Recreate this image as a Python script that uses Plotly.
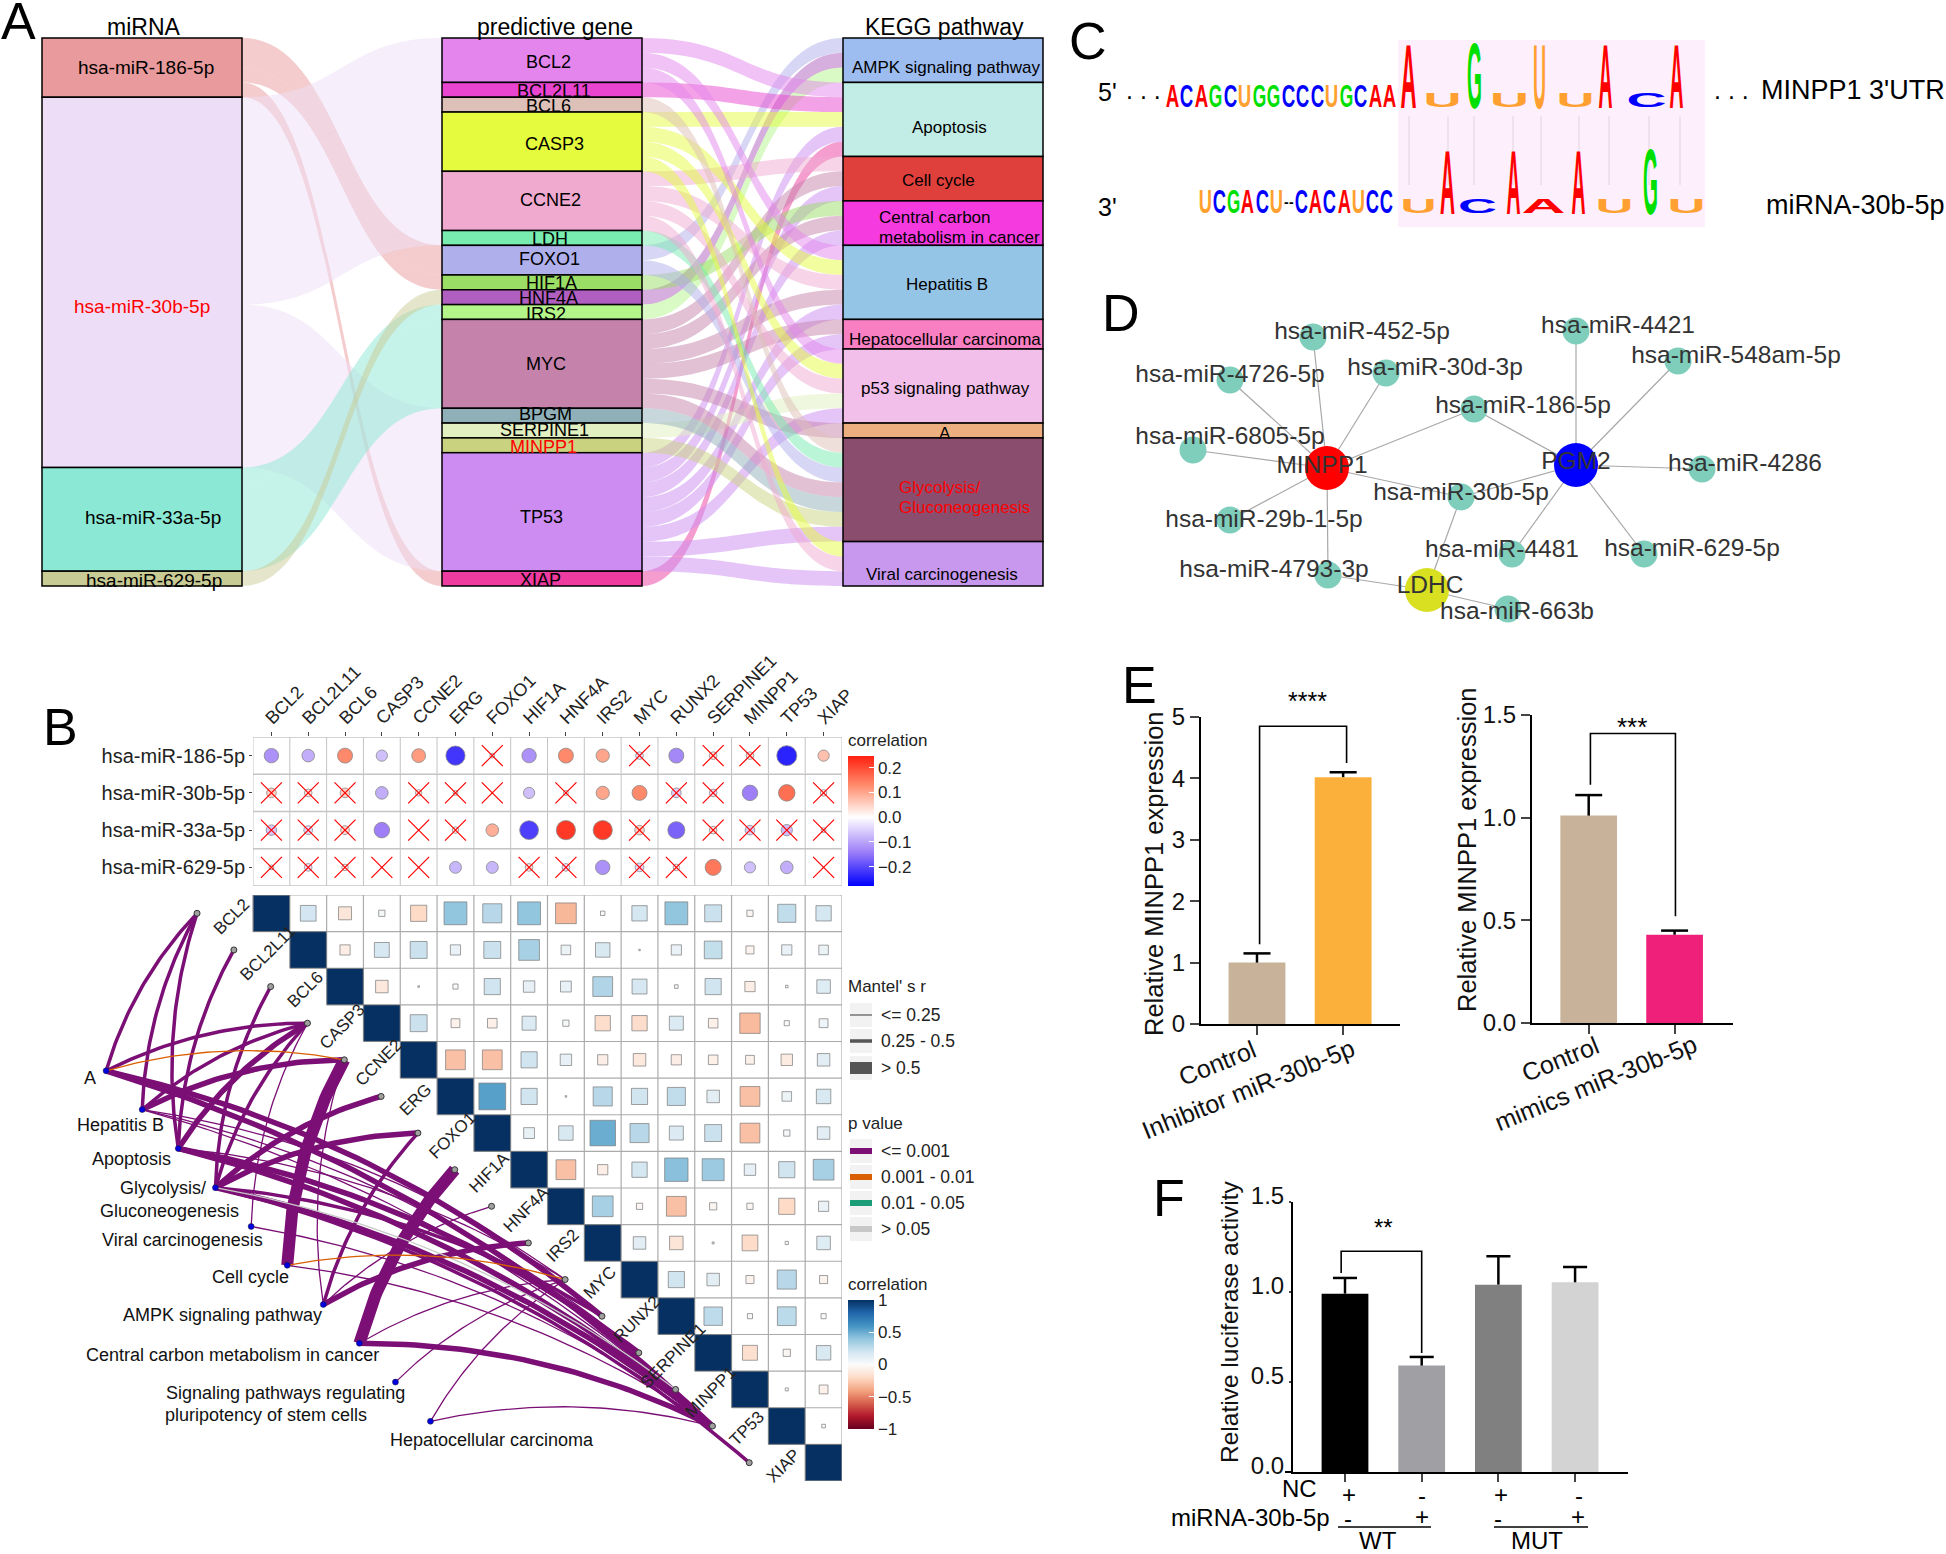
import json
import plotly.graph_objects as go

W, H = 1946, 1554
FONT = "Liberation Sans"

# ---------- Panel A data ----------
mirnas = ["hsa-miR-186-5p", "hsa-miR-30b-5p", "hsa-miR-33a-5p", "hsa-miR-629-5p"]
genes_a = ["BCL2", "BCL2L11", "BCL6", "CASP3", "CCNE2", "LDH", "FOXO1", "HIF1A", "HNF4A",
           "IRS2", "MYC", "BPGM", "SERPINE1", "MINPP1", "TP53", "XIAP"]
pathways_a = ["AMPK signaling pathway", "Apoptosis", "Cell cycle", "Central carbon metabolism in cancer",
              "Hepatitis B", "Hepatocellular carcinoma", "p53 signaling pathway", "A",
              "Glycolysis/Gluconeogenesis", "Viral carcinogenesis"]
mirna_links = [
    ("hsa-miR-186-5p", "FOXO1", 2), ("hsa-miR-186-5p", "HIF1A", 1), ("hsa-miR-186-5p", "XIAP", 1),
    ("hsa-miR-30b-5p", "BCL2", 3), ("hsa-miR-30b-5p", "BCL2L11", 1), ("hsa-miR-30b-5p", "BCL6", 1), ("hsa-miR-30b-5p", "CASP3", 4),
    ("hsa-miR-30b-5p", "CCNE2", 4), ("hsa-miR-30b-5p", "LDH", 1), ("hsa-miR-30b-5p", "BPGM", 1),
    ("hsa-miR-30b-5p", "SERPINE1", 1), ("hsa-miR-30b-5p", "MINPP1", 1), ("hsa-miR-30b-5p", "TP53", 8),
    ("hsa-miR-33a-5p", "IRS2", 1), ("hsa-miR-33a-5p", "MYC", 6),
    ("hsa-miR-629-5p", "HNF4A", 1),
]
gene_links = {
    "AMPK signaling pathway": ["FOXO1", "HNF4A", "IRS2"],
    "Apoptosis": ["BCL2", "BCL2L11", "CASP3", "TP53", "XIAP"],
    "Cell cycle": ["CCNE2", "MYC", "TP53"],
    "Central carbon metabolism in cancer": ["HIF1A", "MYC", "TP53"],
    "Hepatitis B": ["BCL2", "CASP3", "CCNE2", "MYC", "TP53"],
    "Hepatocellular carcinoma": ["MYC", "TP53"],
    "p53 signaling pathway": ["BCL2", "CASP3", "CCNE2", "SERPINE1", "TP53"],
    "A": ["MYC"],
    "Glycolysis/Gluconeogenesis": ["BCL6", "LDH", "FOXO1", "MYC", "BPGM", "MINPP1", "TP53"],
    "Viral carcinogenesis": ["CASP3", "CCNE2", "TP53"],
}
node_colors = ["#E99A9C", "#EEDDF6", "#8BE8D4", "#C9CB95",
               "#E385EC", "#EA45D0", "#DDC0B7", "#E4FB3E", "#F0AACF", "#78ECAF", "#AFB0EB", "#9ADE66",
               "#B05FC0", "#B4F58A", "#C583AC", "#8FB0B9", "#E2EFC0", "#C9D37F", "#CC8CF1", "#EE3B9F",
               "#9DBDF0", "#C2ECE6", "#E0403C", "#F53BE0", "#95C5E6", "#F77FC2", "#F2BEEA", "#EEAF80",
               "#8B4D6E", "#C898EE"]

# ---------- Panel B data ----------
genes = ["BCL2", "BCL2L11", "BCL6", "CASP3", "CCNE2", "ERG", "FOXO1", "HIF1A", "HNF4A", "IRS2",
         "MYC", "RUNX2", "SERPINE1", "MINPP1", "TP53", "XIAP"]
r_186 = [-0.12, -0.09, 0.13, -0.07, 0.11, -0.22, -0.01, -0.12, 0.13, 0.10, -0.03, -0.13, 0.03, 0.03, -0.24, 0.07]
r_30b = [0.05, 0.03, 0.05, -0.09, 0.02, 0.01, 0.00, -0.07, 0.01, 0.10, 0.13, -0.05, -0.03, -0.14, 0.16, 0.02]
r_33a = [-0.06, -0.04, 0.04, -0.14, 0.00, 0.02, 0.09, -0.21, 0.22, 0.22, 0.05, -0.17, 0.03, -0.05, -0.07, 0.01]
r_629 = [0.01, -0.03, 0.02, 0.00, 0.00, -0.08, -0.08, 0.03, -0.03, -0.12, -0.04, 0.02, 0.15, -0.07, -0.09, 0.00]
nonsig_186 = [6, 10, 12, 13]
nonsig_30b = [0, 1, 2, 4, 5, 6, 8, 11, 12, 15]
nonsig_33a = [0, 1, 2, 4, 5, 10, 12, 13, 14, 15]
nonsig_629 = [0, 1, 2, 3, 4, 7, 8, 10, 11, 15]

corr_upper = [
    [.19, -.13, .03, -.20, .40, .28, .40, -.33, -.015, .18, .40, .22, -.03, .25, .18],
    [-.08, .17, .22, .08, .22, .33, .07, .16, .001, .08, .24, -.05, .08, .07],
    [-.12, .002, .02, .20, .10, .09, .30, .17, .01, .20, -.08, .005, .14],
    [.22, -.06, -.07, .15, .03, -.18, -.18, .15, -.07, -.32, .02, .06],
    [-.30, -.30, .20, .10, -.08, -.12, -.08, -.07, -.06, -.10, .12],
    [.55, .20, .002, .28, .20, .25, .12, -.30, .07, .16],
    [.09, .16, .50, .28, .15, .22, -.30, .03, .12],
    [-.30, -.08, .18, .42, .37, .10, .20, .33],
    [.33, -.03, -.30, -.04, -.03, -.20, .08],
    [.12, -.14, .003, -.19, .008, .14],
    [.20, .12, -.05, .28, -.05],
    [.26, .02, .27, .02],
    [-.17, -.04, .16],
    [.007, -.06],
    [.01],
]
path_names = ["A", "Hepatitis B", "Apoptosis", "Glycolysis", "Viral carcinogenesis", "Cell cycle",
              "AMPK signaling pathway", "Central carbon", "Signaling pluripotency", "Hepatocellular carcinoma"]
path_col = [-4.49, -3.51, -2.53, -1.52, -0.55, 0.43, 1.41, 2.39, 3.37, 4.32]
path_row = [4.30, 5.36, 6.42, 7.49, 8.55, 9.61, 10.68, 11.74, 12.80, 13.87]
# (pathway, gene, mantel size class, p class)
mantel_edges = [
    ("A", "BCL2", 2, "a"), ("A", "CASP3", 2, "a"), ("A", "CCNE2", 1, "b"), ("A", "RUNX2", 3, "a"), ("A", "TP53", 3, "a"),
    ("Hepatitis B", "BCL2", 2, "a"), ("Hepatitis B", "CASP3", 2, "a"), ("Hepatitis B", "CCNE2", 3, "a"), ("Hepatitis B", "MYC", 1, "a"),
    ("Hepatitis B", "TP53", 1, "a"), ("Hepatitis B", "SERPINE1", 1, "a"),
    ("Apoptosis", "BCL2", 2, "a"), ("Apoptosis", "BCL2L11", 2, "a"), ("Apoptosis", "CASP3", 3, "a"), ("Apoptosis", "SERPINE1", 3, "a"),
    ("Apoptosis", "TP53", 3, "a"), ("Apoptosis", "MYC", 1, "a"),
    ("Glycolysis", "BCL6", 2, "a"), ("Glycolysis", "CASP3", 2, "a"), ("Glycolysis", "ERG", 3, "a"), ("Glycolysis", "FOXO1", 3, "a"),
    ("Glycolysis", "MINPP1", 1, "d"), ("Glycolysis", "RUNX2", 2, "a"), ("Glycolysis", "TP53", 3, "a"), ("Glycolysis", "XIAP", 2, "a"),
    ("Viral carcinogenesis", "CASP3", 1, "a"), ("Viral carcinogenesis", "TP53", 1, "a"),
    ("Cell cycle", "CCNE2", 4, "a"), ("Cell cycle", "MYC", 1, "b"), ("Cell cycle", "TP53", 1, "a"),
    ("AMPK signaling pathway", "CCNE2", 1, "a"), ("AMPK signaling pathway", "FOXO1", 2, "a"), ("AMPK signaling pathway", "IRS2", 3, "a"),
    ("AMPK signaling pathway", "HNF4A", 1, "a"),
    ("Central carbon", "HIF1A", 4, "a"), ("Central carbon", "MYC", 1, "a"), ("Central carbon", "TP53", 3, "a"),
    ("Signaling pluripotency", "MYC", 1, "a"),
    ("Hepatocellular carcinoma", "MYC", 1, "a"), ("Hepatocellular carcinoma", "TP53", 1, "a"),
]

# ---------- Panel C data ----------
seq_top = "ACAGCUGGCCCUGCAA"
seq_bottom = "UCGACU--CACAUCC"
logo_top = ["A", "U", "G", "U", "U", "U", "A", "C", "A"]
logo_bottom = ["U", "A", "C", "A", "A", "A", "U", "G", "U"]
letter_colors = {"A": "#FF0000", "C": "#0000FF", "G": "#00E000", "U": "#FFA030", "-": "#000000"}

# ---------- Panel D data ----------
net_names = ["MINPP1", "PGM2", "LDHC", "hsa-miR-452-5p", "hsa-miR-4726-5p", "hsa-miR-30d-3p", "hsa-miR-6805-5p",
             "hsa-miR-29b-1-5p", "hsa-miR-4793-3p", "hsa-miR-186-5p", "hsa-miR-30b-5p", "hsa-miR-4421",
             "hsa-miR-548am-5p", "hsa-miR-4286", "hsa-miR-4481", "hsa-miR-629-5p", "hsa-miR-663b"]
net_x = [1327, 1576, 1427, 1313, 1230, 1386, 1193, 1230, 1328, 1474, 1461, 1576, 1678, 1702, 1512, 1644, 1508]
net_y = [468, 465, 590, 337, 380, 373, 450, 520, 575, 409, 497, 331, 361, 469, 554, 554, 609]
net_label_x = [1322, 1576, 1430, 1362, 1230, 1435, 1230, 1264, 1274, 1523, 1461, 1618, 1736, 1745, 1502, 1692, 1517]
net_label_y = [467, 463, 587, 333, 376, 369, 438, 521, 571, 407, 494, 327, 357, 465, 551, 550, 613]
net_edges = [("MINPP1", m) for m in ["hsa-miR-452-5p", "hsa-miR-4726-5p", "hsa-miR-30d-3p", "hsa-miR-6805-5p",
                                     "hsa-miR-29b-1-5p", "hsa-miR-4793-3p", "hsa-miR-186-5p", "hsa-miR-30b-5p"]] + \
            [("PGM2", m) for m in ["hsa-miR-186-5p", "hsa-miR-30b-5p", "hsa-miR-4421", "hsa-miR-548am-5p",
                                   "hsa-miR-4286", "hsa-miR-4481", "hsa-miR-629-5p"]] + \
            [("LDHC", m) for m in ["hsa-miR-30b-5p", "hsa-miR-4793-3p", "hsa-miR-663b"]]

# ---------- Panels E, F data ----------
e1_labels = ["Control", "Inhibitor miR-30b-5p"]
e1_values = [1.0, 4.02]
e1_errors = [0.15, 0.08]
e2_labels = ["Control", "mimics miR-30b-5p"]
e2_values = [1.01, 0.43]
e2_errors = [0.10, 0.02]
f_values = [0.989, 0.59, 1.039, 1.052]
f_errors = [0.087, 0.048, 0.157, 0.085]


# ---------- helpers ----------
def dx(a, b):
    return [a / W, b / W]


def dy(top, bot):
    return [1 - bot / H, 1 - top / H]


annotations, shapes, stretch = [], [], {}


def note(text, x, y, size, color="black", xa="center", ya="middle", angle=0, bold=False):
    annotations.append(dict(text=text, x=x / W, y=1 - y / H, xref="paper", yref="paper", showarrow=False,
                            xanchor=xa, yanchor=ya, textangle=angle, borderpad=0, borderwidth=0,
                            font=dict(family=FONT, size=size, color=color, weight="bold" if bold else "normal")))


def pxline(x0, y0, x1, y1, color="black", width=1.5):
    shapes.append(dict(type="line", xref="paper", yref="paper", x0=x0 / W, x1=x1 / W,
                       y0=1 - y0 / H, y1=1 - y1 / H, line=dict(color=color, width=width)))


def pxrect(x0, y0, x1, y1, fill, layer="below"):
    shapes.append(dict(type="rect", xref="paper", yref="paper", x0=x0 / W, x1=x1 / W, y0=1 - y0 / H,
                       y1=1 - y1 / H, fillcolor=fill, line=dict(width=0), layer=layer))


def rgba(hex_color, a):
    h = hex_color.lstrip("#")
    return f"rgba({int(h[:2],16)},{int(h[2:4],16)},{int(h[4:],16)},{a})"


fig = go.Figure()

# ---------- Panel A: sankey ----------
SANKEY_W = 1043 - 42
THICK = 200
all_nodes = mirnas + genes_a + pathways_a
idx = {n: i for i, n in enumerate(all_nodes)}
src, tgt, val, col = [], [], [], []
for a, b, v in mirna_links:
    src.append(idx[a]); tgt.append(idx[b]); val.append(v); col.append(rgba(node_colors[idx[a]], 0.5))
for p, gs in gene_links.items():
    for g in gs:
        src.append(idx[g]); tgt.append(idx[p]); val.append(1); col.append(rgba(node_colors[idx[g]], 0.5))
node_val = [0] * len(all_nodes)
for s, v in zip(src, val):
    node_val[s] += v
for n in pathways_a:
    node_val[idx[n]] = len(gene_links[n])
total = sum(node_val[idx[n]] for n in mirnas)
half = (THICK / 2) / SANKEY_W
node_x, node_y = [], []
for column, xpos in ((mirnas, half), (genes_a, 0.5 - 0.0005), (pathways_a, 1 - half)):
    cum = 0
    for n in column:
        v = node_val[idx[n]]
        node_x.append(xpos)
        node_y.append((cum + v / 2) / total)
        cum += v
fig.add_trace(go.Sankey(
    domain=dict(x=dx(42, 1043), y=dy(38, 586)),
    arrangement="fixed", valueformat=".0f",
    node=dict(label=[""] * len(all_nodes), color=node_colors, x=node_x, y=node_y, pad=0, thickness=THICK,
              line=dict(color="black", width=1.5)),
    link=dict(source=src, target=tgt, value=val, color=col),
))
for t, x, y in [("miRNA", 143, 27), ("predictive gene", 555, 27), ("KEGG pathway", 944, 27)]:
    note(t, x, y, 23)
for t, x, y, c in [("hsa-miR-186-5p", 146, 68, "black"), ("hsa-miR-30b-5p", 142, 306, "red"),
                   ("hsa-miR-33a-5p", 153, 517, "black"), ("hsa-miR-629-5p", 154, 581, "black")]:
    note(t, x, y, 19, c)
gene_label_x = [548, 554, 548, 554, 550, 550, 549, 551, 548, 546, 546, 545, 544, 543, 541, 540]
gene_label_y = [62, 91, 106, 144, 200, 239, 259, 283, 298, 314, 364, 414, 430, 447, 517, 580]
for g, x, y in zip(genes_a, gene_label_x, gene_label_y):
    note(g, x, y, 18, "red" if g == "MINPP1" else "black")
for t, x, y, c, xa in [("AMPK signaling pathway", 946, 68, "black", "center"), ("Apoptosis", 949, 128, "black", "center"),
                       ("Cell cycle", 938, 181, "black", "center"), ("Central carbon", 879, 217, "black", "left"),
                       ("metabolism in cancer", 879, 238, "black", "left"), ("Hepatitis B", 947, 285, "black", "center"),
                       ("Hepatocellular carcinoma", 945, 339, "black", "center"), ("p53 signaling pathway", 945, 389, "black", "center"),
                       ("A", 945, 433, "black", "center"), ("Glycolysis/", 899, 487, "red", "left"),
                       ("Gluconeogenesis", 899, 507, "red", "left"), ("Viral carcinogenesis", 942, 574, "black", "center")]:
    note(t, x, y, 17, c, xa=xa)

# ---------- Panel B top: dots ----------
fig.update_layout(
    xaxis=dict(domain=dx(253, 842), range=[-0.5, 15.5], tickvals=list(range(16)), ticktext=genes, side="top",
               tickangle=-45, ticks="outside", ticklen=4, tickfont=dict(size=18, color="#222"), showgrid=False,
               zeroline=False, anchor="y", ticklabelshift=-5, ticklabelstandoff=-3),
    yaxis=dict(domain=dy(737, 886), range=[3.5, -0.5], tickvals=list(range(4)), ticktext=mirnas, ticks="outside",
               ticklen=3, tickfont=dict(size=20, color="#222"), showgrid=False, zeroline=False, anchor="x"),
)
rows = [r_186, r_30b, r_33a, r_629]
nonsig = [nonsig_186, nonsig_30b, nonsig_33a, nonsig_629]
for i in range(17):
    shapes.append(dict(type="line", xref="x", yref="y", x0=i - 0.5, x1=i - 0.5, y0=-0.5, y1=3.5,
                       line=dict(color="#C4C4C4", width=1), layer="below"))
for i in range(5):
    shapes.append(dict(type="line", xref="x", yref="y", x0=-0.5, x1=15.5, y0=i - 0.5, y1=i - 0.5,
                       line=dict(color="#C4C4C4", width=1.5), layer="below"))
dx_, dy_, dc_, ds_, xx_, xy_ = [], [], [], [], [], []
for ri, row in enumerate(rows):
    for ci, v in enumerate(row):
        dx_.append(ci); dy_.append(ri); dc_.append(v)
        ds_.append(19 * (abs(v) / 0.24) ** 0.5 + 1)
        if ci in nonsig[ri]:
            xx_.append(ci); xy_.append(ri)
fig.add_trace(go.Scatter(x=dx_, y=dy_, mode="markers", xaxis="x", yaxis="y", showlegend=False, hoverinfo="skip",
                         marker=dict(size=ds_, color=dc_, opacity=1, coloraxis="coloraxis", line=dict(color="#888", width=0.8))))
fig.add_trace(go.Scatter(x=xx_, y=xy_, mode="markers", xaxis="x", yaxis="y", showlegend=False, hoverinfo="skip",
                         marker=dict(size=21, symbol="x-thin", color="red", line=dict(color="red", width=1.2))))

# ---------- Panel B bottom: correlogram with Mantel arcs ----------
cell_w = (842 - 253) / 16
left_col = (60 - 253) / cell_w - 0.5
fig.update_layout(
    xaxis2=dict(domain=dx(60, 842), range=[left_col, 15.5], visible=False, anchor="y2"),
    yaxis2=dict(domain=dy(895, 1481), range=[15.5, -0.5], visible=False, anchor="x2"),
)
gx, gy = [], []
for i in range(17):
    gx += [i - 0.5, i - 0.5, None]; gy += [-0.5, min(i + 0.5, 15.5), None]
    gx += [max(i - 1.5, -0.5), 15.5, None]; gy += [i - 0.5, i - 0.5, None]
fig.add_trace(go.Scatter(x=gx, y=gy, mode="lines", xaxis="x2", yaxis="y2", showlegend=False, hoverinfo="skip",
                         line=dict(color="#ABABAB", width=1.2)))
sx_, sy_, sc_, ss_ = [], [], [], []
for i in range(16):
    sx_.append(i); sy_.append(i); sc_.append(1.0); ss_.append(cell_w - 0.5)
for i, row in enumerate(corr_upper):
    for k, v in enumerate(row):
        sx_.append(i + 1 + k); sy_.append(i); sc_.append(v)
        ss_.append(max(cell_w * abs(v) ** 0.5 * 0.98, 1.5))
fig.add_trace(go.Scatter(x=sx_, y=sy_, mode="markers", xaxis="x2", yaxis="y2", showlegend=False, hoverinfo="skip",
                         marker=dict(size=ss_, symbol="square", color=sc_, opacity=1, coloraxis="coloraxis2",
                                     line=dict(color="#7A7A7A", width=0.7))))
for i, g in enumerate(genes):
    annotations.append(dict(text=g, x=i - 0.5 - 0.58, y=i + 0.08, xref="x2", yref="y2", showarrow=False, textangle=-45,
                            xanchor="center", yanchor="middle", font=dict(family=FONT, size=17, color="#222")))
widths = {1: 1.3, 2: 3.5, 3: 5.5, 4: 12}
p_colors = {"a": "#7B0F75", "b": "#D95F02", "c": "#1B9E77", "d": "#C8C8C8"}
pos_col = dict(zip(path_names, path_col))
pos_row = dict(zip(path_names, path_row))
ordered = sorted(mantel_edges, key=lambda e: e[3] == "a", reverse=True)
for p, g, cls, pc in ordered:
    i = genes.index(g)
    x0, y0, x1, y1 = pos_col[p], pos_row[p], i - 2.02, float(i)
    mx, my = (x0 + x1) / 2, (y0 + y1) / 2
    ux, uy = y1 - y0, -(x1 - x0)
    k = 0.12
    cx, cy = mx + k * ux, my + k * uy
    ts = [t / 40 for t in range(41)]
    xs = [(1 - t) ** 2 * x0 + 2 * t * (1 - t) * cx + t ** 2 * x1 for t in ts]
    ys = [(1 - t) ** 2 * y0 + 2 * t * (1 - t) * cy + t ** 2 * y1 for t in ts]
    fig.add_trace(go.Scatter(x=xs, y=ys, mode="lines", xaxis="x2", yaxis="y2", showlegend=False, hoverinfo="skip",
                             line=dict(color=p_colors[pc], width=widths[cls])))
fig.add_trace(go.Scatter(x=[i - 2.02 for i in range(16)], y=list(range(16)), mode="markers", xaxis="x2", yaxis="y2",
                         showlegend=False, hoverinfo="skip",
                         marker=dict(size=6, color="#A0A0A0", line=dict(color="#333", width=1))))
fig.add_trace(go.Scatter(x=path_col, y=path_row, mode="markers", xaxis="x2", yaxis="y2", showlegend=False,
                         hoverinfo="skip", marker=dict(size=6, color="#0000E0", line=dict(color="#222", width=0.5))))
for t, x, y in [("A", 90, 1078), ("Hepatitis B", 120, 1125), ("Apoptosis", 131, 1159), ("Glycolysis/", 163, 1188),
                ("Gluconeogenesis", 169, 1211), ("Viral carcinogenesis", 182, 1240), ("Cell cycle", 250, 1277),
                ("AMPK signaling pathway", 222, 1315), ("Central carbon metabolism in cancer", 232, 1355),
                ("Signaling pathways regulating", 285, 1393), ("pluripotency of stem cells", 266, 1415),
                ("Hepatocellular carcinoma", 492, 1440)]:
    note(t, x, y, 18, "#111")

# B legends
LX = 848
note("correlation", LX, 740, 17, "#222", xa="left")
note("Mantel' s r", LX, 987, 17, "#222", xa="left")
for t, y, lw in [("<= 0.25", 1015, 1.2), ("0.25 - 0.5", 1041, 3.5), ("> 0.5", 1068, 12)]:
    pxrect(LX + 2, y - 12, LX + 24, y + 12, "#F2F2F2")
    pxline(LX + 2, y, LX + 24, y, "#555", lw)
    note(t, LX + 33, y, 17.5, "#222", xa="left")
note("p value", LX, 1123, 17, "#222", xa="left")
for t, y, c in [("<= 0.001", 1151, "#7B0F75"), ("0.001 - 0.01", 1177, "#D95F02"),
                ("0.01 - 0.05", 1203, "#1B9E77"), ("> 0.05", 1229, "#C8C8C8")]:
    pxrect(LX + 2, y - 12, LX + 24, y + 12, "#F2F2F2")
    pxline(LX + 2, y, LX + 24, y, c, 6)
    note(t, LX + 33, y, 17.5, "#222", xa="left")
note("correlation", LX, 1284, 17, "#222", xa="left")

fig.update_layout(
    coloraxis=dict(cmin=-0.278, cmax=0.247,
                   colorscale=[[0, "#0000FF"], [0.265, "#9F80F8"], [0.53, "#FFFFFF"], [0.765, "#FF9070"], [1, "#FF2010"]],
                   colorbar=dict(thicknessmode="pixels", thickness=26, lenmode="pixels", len=130, xanchor="left",
                                 x=LX / W, xpad=0, ypad=0, yanchor="top", y=1 - 756 / H, outlinewidth=0,
                                 tickvals=[-0.2, -0.1, 0, 0.1, 0.2], ticktext=["\u22120.2", "\u22120.1", "0.0", "0.1", "0.2"],
                                 ticks="inside", ticklen=5, tickcolor="white",
                                 tickfont=dict(size=17, color="#222", family=FONT))),
    coloraxis2=dict(cmin=-1, cmax=1,
                    colorscale=[[i / 10, c] for i, c in enumerate(
                        ["#67001F", "#B2182B", "#D6604D", "#F4A582", "#FDDBC7", "#FBFBFB",
                         "#D1E5F0", "#92C5DE", "#4393C3", "#2166AC", "#053061"])],
                    colorbar=dict(thicknessmode="pixels", thickness=26, lenmode="pixels", len=129, xanchor="left",
                                  x=LX / W, xpad=0, ypad=0, yanchor="top", y=1 - 1300 / H, outlinewidth=0,
                                  tickvals=[-1, -0.5, 0, 0.5, 1], ticktext=["\u22121", "\u22120.5", "0", "0.5", "1"],
                                  ticks="inside", ticklen=5, tickcolor="white",
                                  tickfont=dict(size=17, color="#222", family=FONT))),
)

# ---------- Panel C: logo text ----------
pxrect(1398, 40, 1705, 227, "#FDEFFC")
for x in [1409, 1448, 1474, 1513, 1541, 1579, 1609, 1649, 1680]:
    pxline(x, 116, x, 185, "#E2D4DE", 1)


def letter(ch, x0, x1, base, height, fs=40):
    stretch[len(annotations)] = [x1 - x0, height, fs]
    note(ch, (x0 + x1) / 2, base, fs, letter_colors.get(ch, "black"), ya="bottom", bold=True)


n = len(seq_top)
for i, ch in enumerate(seq_top):
    w = (1397 - 1165) / n
    letter(ch, 1165 + i * w + 0.5, 1165 + (i + 1) * w - 0.5, 107, 23)
xs = 1198
for ch in seq_bottom:
    w = 5.5 if ch == "-" else (1394 - 1198 - 11) / 13
    if ch == "-":
        note("-", xs + w / 2, 202, 14, "black", bold=True)
    else:
        letter(ch, xs + 0.5, xs + w - 0.5, 213, 24)
    xs += w
top_boxes = [(1400, 1416, 65), (1423, 1461, 14), (1467, 1482, 66), (1490, 1529, 14), (1533, 1546, 65),
             (1556, 1594, 14), (1598, 1612, 65), (1626, 1666, 14), (1669, 1683, 65)]
bot_boxes = [(1400, 1436, 14), (1440, 1455, 65), (1458, 1497, 14), (1506, 1520, 65), (1521, 1565, 14),
             (1571, 1585, 65), (1595, 1633, 14), (1643, 1658, 66), (1667, 1705, 14)]
for ch, (a, b, h) in zip(logo_top, top_boxes):
    letter(ch, a, b, 107, h)
for ch, (a, b, h) in zip(logo_bottom, bot_boxes):
    letter(ch, a, b, 213, h)
note("5'", 1107, 92, 25)
note(". . .", 1143, 90, 25)
note(". . .", 1731, 90, 25)
note("MINPP1 3'UTR", 1945, 90, 27, xa="right")
note("3'", 1107, 207, 25)
note("miRNA-30b-5p", 1945, 205, 27, xa="right")

# ---------- Panel D: network ----------
fig.update_layout(
    xaxis3=dict(domain=dx(1100, 1900), range=[1100, 1900], visible=False, anchor="y3"),
    yaxis3=dict(domain=dy(290, 640), range=[640, 290], visible=False, anchor="x3"),
)
ex, ey = [], []
for a, b in net_edges:
    ia, ib = net_names.index(a), net_names.index(b)
    ex += [net_x[ia], net_x[ib], None]
    ey += [net_y[ia], net_y[ib], None]
fig.add_trace(go.Scatter(x=ex, y=ey, mode="lines", xaxis="x3", yaxis="y3", showlegend=False, hoverinfo="skip",
                         line=dict(color="#A8A8A8", width=1.2)))
net_colors = ["#FF0000", "#0000FF", "#D9DF21"] + ["#7FCDBB"] * 14
net_sizes = [44, 44, 44] + [27] * 14
fig.add_trace(go.Scatter(x=net_x, y=net_y, mode="markers", xaxis="x3", yaxis="y3", showlegend=False, hoverinfo="skip",
                         marker=dict(size=net_sizes, color=net_colors, opacity=1, line=dict(width=0))))
fig.add_trace(go.Scatter(x=net_label_x, y=net_label_y, text=net_names, mode="text", xaxis="x3", yaxis="y3",
                         showlegend=False, hoverinfo="skip", textposition="middle center", cliponaxis=False,
                         textfont=dict(family=FONT, size=24.5, color="#333")))


# ---------- Panels E, F: bars ----------
def bars(xa, ya, xd, yd, centers, vals, errs, colors, width, xr, yr, tickvals, fmt,
         ylen=9, xticklen=9, yshift=0):
    fig.add_trace(go.Bar(x=centers, y=vals, xaxis=xa, yaxis=ya, width=width, marker=dict(color=colors, line=dict(width=0)),
                         showlegend=False, hoverinfo="skip"))
    ebx, eby = [], []
    cap = 0.157
    for c, v, e in zip(centers, vals, errs):
        ebx += [c, c, None, c - cap, c + cap, None]
        eby += [v, v + e, None, v + e, v + e, None]
    fig.add_trace(go.Scatter(x=ebx, y=eby, mode="lines", xaxis=xa, yaxis=ya, showlegend=False, hoverinfo="skip",
                             cliponaxis=False, line=dict(color="black", width=2.5)))
    sfx = xa[1:]
    fig.layout[f"xaxis{sfx}"] = dict(domain=dx(*xd), range=xr, anchor=ya, tickvals=centers,
                                     ticktext=[""] * len(centers), ticks="outside", ticklen=xticklen,
                                     tickwidth=2, showline=True, linewidth=2, linecolor="black",
                                     showgrid=False, zeroline=False)
    fig.layout[f"yaxis{sfx}"] = dict(domain=dy(*yd), range=yr, anchor=xa, tickvals=tickvals, tickformat=fmt,
                                     ticks="outside", ticklen=ylen, tickwidth=2, showline=True, linewidth=2,
                                     linecolor="black", tickfont=dict(size=24, family=FONT, color="#111"),
                                     ticklabelshift=yshift, showgrid=False, zeroline=False)


def bracket(xa, ya, x0, x1, top, left_end, right_end):
    fig.add_trace(go.Scatter(x=[x0, x0, x1, x1], y=[left_end, top, top, right_end], mode="lines", xaxis=xa, yaxis=ya,
                             showlegend=False, hoverinfo="skip", cliponaxis=False,
                             line=dict(color="black", width=1.6)))


bars("x4", "y4", (1201, 1400), (717, 1024), [0, 1], e1_values, e1_errors, ["#C8B299", "#FBB03B"], 0.66,
     [-0.65, 1.66], [0, 5], [0, 1, 2, 3, 4, 5], "d")
bracket("x4", "y4", 0.03, 1.04, 4.85, 1.3, 4.25)
note("Relative MINPP1 expression", 1154, 874, 25.5, "#111", angle=-90)
note(e1_labels[0], 1217, 1063, 25, "#111", angle=-22)
note(e1_labels[1], 1248, 1089, 25, "#111", angle=-22)
note("****", 1307, 701, 25)
bars("x5", "y5", (1532, 1733), (715, 1023), [0, 1], e2_values, e2_errors, ["#C8B299", "#EE207A"], 0.66,
     [-0.66, 1.68], [0, 1.5], [0, 0.5, 1.0, 1.5], ".1f")
bracket("x5", "y5", 0.02, 1.01, 1.41, 1.16, 0.52)
note("Relative MINPP1 expression", 1467, 850, 25.5, "#111", angle=-90)
note(e2_labels[0], 1560, 1059, 25, "#111", angle=-22)
note(e2_labels[1], 1595, 1083, 25, "#111", angle=-22)
note("***", 1632, 727, 26)
bars("x6", "y6", (1293, 1628), (1201.5, 1472), [0, 1, 2, 3], f_values, f_errors,
     ["#000000", "#A0A0A4", "#808080", "#D3D3D3"], 0.61, [-0.678, 3.69], [0, 1.5], [0, 0.5, 1.0, 1.5],
     ".1f", ylen=2, xticklen=8, yshift=-6)
bracket("x6", "y6", -0.05, 1.0, 1.224, 1.104, 0.66)
pxline(1285, 1472, 1293, 1472, "black", 2)
note("Relative luciferase activity", 1229, 1322, 24.5, "#111", angle=-90)
note("**", 1383, 1227, 24)
note("NC", 1299, 1488, 24)
note("miRNA-30b-5p", 1330, 1517, 24, xa="right")
for t, x, y in [("+", 1349, 1494), ("-", 1422, 1495), ("+", 1501, 1494), ("-", 1579, 1495),
                ("-", 1348, 1518), ("+", 1422, 1516), ("-", 1498, 1518), ("+", 1578, 1516)]:
    note(t, x, y, 24)
pxline(1338, 1527, 1431, 1527, "black", 1.6)
pxline(1494, 1527, 1588, 1527, "black", 1.6)
note("WT", 1378, 1540, 24)
note("MUT", 1537, 1540, 24)

# panel letters
for t, x, y in [("A", 18, 21), ("B", 60, 727), ("C", 1088, 41), ("D", 1121, 313), ("E", 1139, 685), ("F", 1169, 1198)]:
    note(t, x, y, 52)

fig.update_layout(width=W, height=H, margin=dict(l=0, r=0, t=0, b=0, pad=0, autoexpand=False), paper_bgcolor="white",
                  plot_bgcolor="rgba(0,0,0,0)", showlegend=False, barmode="overlay",
                  font=dict(family=FONT), annotations=annotations, shapes=shapes)

post = """
document.body.style.margin='0';
var gd=document.getElementById('{plot_id}');
var stretch=%s;
gd.querySelectorAll('g.annotation').forEach(function(g){
  var i=g.getAttribute('data-index');
  if(!(i in stretch)) return;
  var t=g.querySelector('text.annotation-text');
  var s=stretch[i], b=t.getBBox();
  var cx=b.x+b.width/2, yb=b.y+b.height*0.81, shift=b.y+b.height-yb;
  var sx=s[0]/b.width, sy=s[1]/(0.716*s[2]);
  t.setAttribute('transform','translate('+cx+','+(yb+shift)+') scale('+sx+','+sy+') translate('+(-cx)+','+(-yb)+')');
});
""" % json.dumps(stretch)
fig.write_html("out.html", post_script=post, config=dict(displayModeBar=False))
